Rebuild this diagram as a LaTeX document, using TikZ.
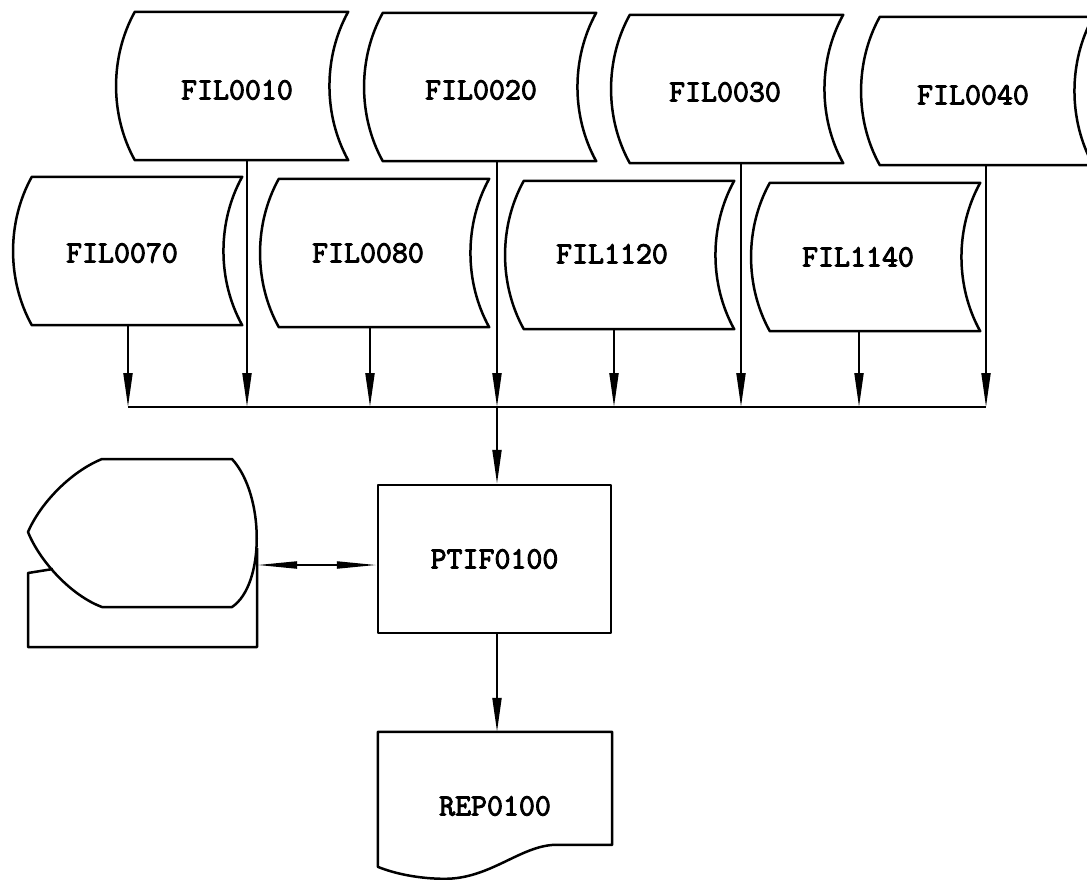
\documentclass[tikz,border=0pt]{standalone}
\usepackage{fontspec}
\newfontfamily\typebold{Latin Modern Mono}[FakeBold=3]
\usetikzlibrary{arrows.meta,calc}
\newcommand\storedshape[1]{%
  \draw[outl] (#1.north west) -- (#1.north east)
    .. controls ($(#1.north east)+(-25,45)$) and ($(#1.south east)+(-25,-45)$) .. (#1.south east)
    -- (#1.south west)
    .. controls ($(#1.south west)+(-25,-45)$) and ($(#1.north west)+(-25,45)$) .. cycle;}
\begin{document}
\begin{tikzpicture}[x=1pt,y=-1pt,
  outl/.style={line width=2.5pt, line join=round},
  sdA/.style={minimum width=213pt, minimum height=148pt, inner sep=0pt},
  sdB/.style={minimum width=210pt, minimum height=148pt, inner sep=0pt},
  tfont/.style={font=\typebold\fontsize{31}{34}\selectfont},
  lbl/.style={tfont, inner sep=0pt},
  conn/.style={line width=2pt, miter limit=60},
  arr/.style={conn, -{Triangle[length=34pt,width=9pt]}},
  dbl/.style={conn, {Triangle[length=40pt,width=7pt]}-{Triangle[length=40pt,width=7pt]}}]
\useasboundingbox (0,0) rectangle (1087,880);
\fill[white] (0,0) rectangle (1087,880);

% top row of stored-data symbols
\node[sdA] (f10) at (241.5,86) {};
\node[sdA] (f20) at (489.5,87) {};
\node[sdA] (f30) at (736.5,89) {};
\node[sdA] (f40) at (986.5,91) {};
\storedshape{f10}\storedshape{f20}\storedshape{f30}\storedshape{f40}
\node[lbl] (f10t) at (237,90) {FIL0010};
\node[lbl] (f20t) at (481,90) {FIL0020};
\node[lbl] (f30t) at (725,92) {FIL0030};
\node[lbl] (f40t) at (973,95) {FIL0040};

% second row
\node[sdB] (f70) at (137,251) {};
\node[sdB] (f80) at (384,253) {};
\node[sdB] (f1120) at (629,255) {};
\node[sdB] (f1140) at (875,257) {};
\storedshape{f70}\storedshape{f80}\storedshape{f1120}\storedshape{f1140}
\node[lbl] (f70t) at (122,253) {FIL0070};
\node[lbl] (f80t) at (368,253) {FIL0080};
\node[lbl] (f1120t) at (612,254) {FIL1120};
\node[lbl] (f1140t) at (858,257) {FIL1140};

% bus coordinates
\coordinate (b70) at (128,407);
\coordinate (b10) at (247,407);
\coordinate (b80) at (370,407);
\coordinate (b20) at (497,407);
\coordinate (b1120) at (614,407);
\coordinate (b30) at (741,407);
\coordinate (b1140) at (859,407);
\coordinate (b40) at (986,407);

\draw[arr] (b70 |- f70.south) -- (b70);
\draw[arr] (b10 |- f10.south) -- (b10);
\draw[arr] (b80 |- f80.south) -- (b80);
\draw[arr] (b20 |- f20.south) -- (b20);
\draw[arr] (b1120 |- f1120.south) -- (b1120);
\draw[arr] (b30 |- f30.south) -- (b30);
\draw[arr] (b1140 |- f1140.south) -- (b1140);
\draw[arr] (b40 |- f40.south) -- (b40);
\draw[conn] (b70) -- (b40);

% process box
\node[outl, draw, minimum width=233pt, minimum height=148pt, inner sep=0pt, tfont] (ptif) at (494.5,559) {PTIF0100};
\draw[arr] (b20) -- (b20 |- ptif.north);

% report (document symbol)
\node[minimum width=234pt, minimum height=148pt, inner sep=0pt, tfont] (rep) at (495,806) {REP0100};
\draw[outl] (rep.north west) -- (rep.north east) -- ($(rep.north east)+(0,113)$)
  -- ($(rep.north east)+(-57,113)$)
  .. controls ($(rep.north east)+(-92,114)$) and ($(rep.north east)+(-122,147)$) .. ($(rep.north west)+(67,147)$)
  .. controls ($(rep.north west)+(42,147)$) and ($(rep.north west)+(17,142)$) .. ($(rep.north west)+(0,135)$)
  -- cycle;
\draw[arr] (ptif.south -| b20) -- (b20 |- rep.north);

% display symbol
\node[minimum width=229pt, minimum height=188pt, inner sep=0pt] (disp) at (142.5,553) {};
\draw[outl] (102,459) -- (232,459)
  .. controls (265,495) and (265,585) .. (232,607)
  -- (102,607)
  .. controls (72,596) and (40,562) .. (28,532)
  .. controls (40,504) and (70,472) .. (102,459) -- cycle;
\draw[outl] (53,569) -- (28,573) -- (28,647) -- (257,647) -- (257,548);
\coordinate (dispR) at (257,565);
\draw[dbl] (dispR) -- (dispR -| ptif.west);
\end{tikzpicture}
\end{document}
